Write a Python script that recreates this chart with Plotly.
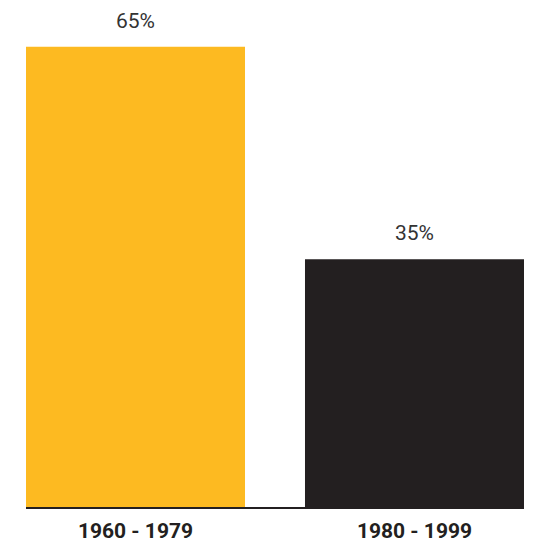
import plotly.graph_objects as go

categories = ["1960 - 1979", "1980 - 1999"]
values = [65, 35]
labels = ["65%", "35%"]
colors = ["#FDBA21", "#231F20"]

x_pos = list(range(len(categories)))
bar_w = 0.785

fig = go.Figure()
fig.add_trace(go.Bar(
    x=x_pos, y=values, width=bar_w,
    marker=dict(color=colors, line=dict(width=0)),
    hoverinfo="skip",
))

for xp, v, t in zip(x_pos, values, labels):
    fig.add_annotation(x=xp, y=v, text=t, showarrow=False, yanchor="bottom",
                       yshift=12, font=dict(family="Roboto", size=21, color="#333333"))

fig.update_layout(
    width=535, height=542,
    margin=dict(l=26, r=11, t=0, b=35),
    paper_bgcolor="white", plot_bgcolor="white",
    showlegend=False,
    xaxis=dict(range=[-bar_w / 2, 1 + bar_w / 2], tickvals=x_pos, ticktext=categories,
               showgrid=False, zeroline=False, showline=True, linecolor="#231F20",
               linewidth=2, ticks="", ticklen=0, ticklabelstandoff=4,
               tickfont=dict(family="Roboto", size=21, color="#231F20", weight="bold")),
    yaxis=dict(range=[0, 71.6], visible=False, showgrid=False, zeroline=False),
)

fig.write_html("out.html")
